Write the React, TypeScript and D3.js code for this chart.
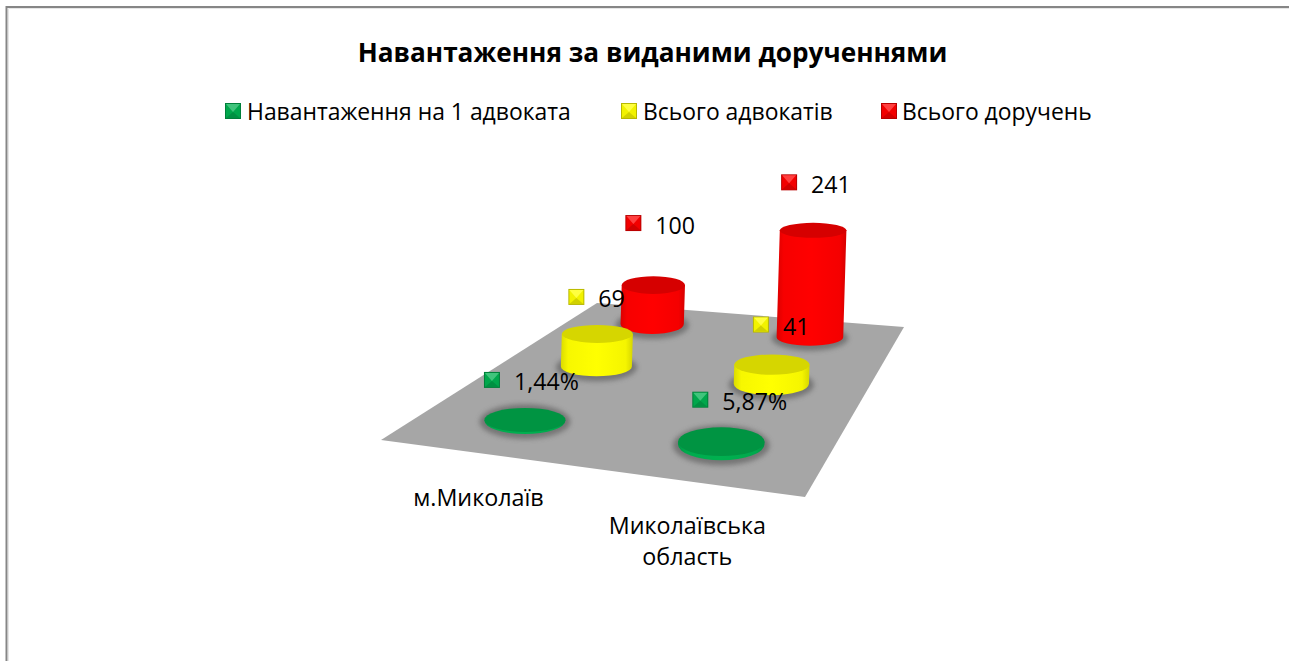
import React from "react";
import * as d3 from "d3";

const title = "Навантаження за виданими дорученнями";
const categories = ["м.Миколаїв", "Миколаївська область"];
const seriesNames = ["Навантаження на 1 адвоката", "Всього адвокатів", "Всього доручень"];
const loadPerLawyer = [1.44, 5.87];
const totalLawyers = [69, 41];
const totalAssignments = [100, 241];
const loadLabels = ["1,44%", "5,87%"];
const lawyerLabels = ["69", "41"];
const assignmentLabels = ["100", "241"];
const seriesColors = ["#00B050", "#FFFF00", "#FF0000"];

const seriesValues = [loadPerLawyer, totalLawyers, totalAssignments];
const seriesLabels = [loadLabels, lawyerLabels, assignmentLabels];

const W = 1289, H = 661;
// Floor quad corners: front-left, front-right, back-right, back-left
const A = [381, 440], B = [805, 497], C = [904, 327], D = [597, 303];

function makeHomography() {
  const dx1 = B[0] - C[0], dx2 = D[0] - C[0], sx = A[0] - B[0] + C[0] - D[0];
  const dy1 = B[1] - C[1], dy2 = D[1] - C[1], sy = A[1] - B[1] + C[1] - D[1];
  const det = dx1 * dy2 - dx2 * dy1;
  const g = (sx * dy2 - dx2 * sy) / det;
  const h = (dx1 * sy - sx * dy1) / det;
  const a = B[0] - A[0] + g * B[0], b = D[0] - A[0] + h * D[0];
  const d = B[1] - A[1] + g * B[1], e = D[1] - A[1] + h * D[1];
  return (u: number, v: number) => {
    const w = 1 + g * u + h * v;
    return { x: (a * u + b * v + A[0]) / w, y: (d * u + e * v + A[1]) / w, w };
  };
}
const project = makeHomography();

const uScale = d3.scalePoint<number>().domain([0, 1]).range([0.264, 0.757]);
const vScale = d3.scalePoint<number>().domain([0, 1, 2]).range([0.17, 0.855]);
const hScale = d3.scaleLinear().domain([0, 241]).range([0, 107]);

// Layout tuning per [series][category]
const flatten = [[0.33, 0.37], [0.28, 0.3], [0.31, 0.25]];
const depthFactor = [[1, 1], [1.06, 1.06], [0.88, 1]];
const keyOffsets = [
  [[-33, -40], [-21, -42]],
  [[-21, -37], [-11, -40]],
  [[-20, -62], [-24, -48]],
];

function shade(c: string, k: number) {
  const r = d3.rgb(c);
  return d3.rgb(r.r * k, r.g * k, r.b * k).formatHex();
}

function Key({ cx, cy, s, color }: { cx: number; cy: number; s: number; color: string }) {
  const x0 = cx - s / 2, x1 = cx + s / 2, y0 = cy - s / 2, y1 = cy + s / 2;
  const light = d3.interpolateRgb(color, "#ffffff")(0.25);
  return (
    <g>
      <rect x={x0} y={y0} width={s} height={s} fill={shade(color, 0.72)} />
      <rect x={x0 + 1} y={y0 + 1} width={s - 2} height={s - 2} fill={shade(color, 0.95)} />
      <path d={`M${x0 + 1},${y0 + 1}H${x1 - 1}L${cx},${cy + 1}Z`} fill={light} />
      <path d={`M${x0 + 1},${y1 - 1}H${x1 - 1}L${cx},${cy + 1}Z`} fill={shade(color, 0.82)} />
    </g>
  );
}

const FONT = "'Open Sans', sans-serif";

export default function App() {
  const marks = d3.range(3).flatMap((s) => d3.range(2).map((c) => {
    const p = project(uScale(c)!, vScale(s)!);
    const rx = 42 / p.w;
    const ry = rx * flatten[s][c];
    const h = hScale(seriesValues[s][c]) * depthFactor[s][c];
    const topX = p.x + h * 0.03;
    const topY = p.y - h;
    return { s, c, x: p.x, y: p.y, rx, ry, h, topX, topY, color: seriesColors[s] };
  }));
  // back to front
  const ordered = [...marks].sort((a, b) => b.s - a.s || a.c - b.c);

  const legendKeyX = [233, 629, 889];
  const legendTextX = [247, 643, 902];

  return (
    <svg width={W} height={H} viewBox={`0 0 ${W} ${H}`} style={{ position: "absolute", left: 0, top: 0, display: "block" }}>
      <defs>
        <filter id="soft" x="-30%" y="-50%" width="160%" height="200%">
          <feGaussianBlur stdDeviation="2.6" />
        </filter>
        <filter id="edge" x="-5%" y="-5%" width="110%" height="110%">
          <feGaussianBlur stdDeviation="0.5" />
        </filter>
        {seriesColors.map((c, i) => (
          <linearGradient key={i} id={`side${i}`} x1="0" x2="1" y1="0" y2="0">
            <stop offset="0" stopColor={shade(c, 0.86)} />
            <stop offset="0.1" stopColor={shade(c, 0.97)} />
            <stop offset="0.5" stopColor={c} />
            <stop offset="0.9" stopColor={shade(c, 0.96)} />
            <stop offset="1" stopColor={shade(c, 0.84)} />
          </linearGradient>
        ))}
      </defs>
      <rect width={W} height={H} fill="#ffffff" />
      <path d={`M6.5,${H}V7H${W}`} fill="none" stroke="#868686" strokeWidth={2} />
      <path d={`M8.5,${H}V8.5H${W}`} fill="none" stroke="#e6e6e6" strokeWidth={1} />

      <text x={652.5} y={62} textAnchor="middle" fontFamily={FONT} fontSize={26.2} fontWeight={700} fill="#000">{title}</text>

      {seriesNames.map((n, i) => (
        <g key={n}>
          <Key cx={legendKeyX[i]} cy={111} s={16} color={seriesColors[i]} />
          <text x={legendTextX[i]} y={119.5} fontFamily={FONT} fontSize={22.9} fill="#000">{n}</text>
        </g>
      ))}

      <polygon points={[A, B, C, D].map((p) => p.join(",")).join(" ")} fill="#a6a6a6" />

      {ordered.map((m) => (
        <ellipse key={`sh${m.s}${m.c}`} cx={m.x} cy={m.y + 1} rx={m.rx + 5} ry={m.ry + 4} fill="#555555" filter="url(#soft)" opacity={0.6} />
      ))}

      {ordered.map((m) => {
        const topRy = m.ry * 0.9;
        return (
          <g key={`c${m.s}${m.c}`} filter="url(#edge)">
            <path
              d={`M${m.x - m.rx},${m.y}L${m.topX - m.rx},${m.topY}L${m.topX + m.rx},${m.topY}L${m.x + m.rx},${m.y}A${m.rx},${m.ry} 0 0 1 ${m.x - m.rx},${m.y}Z`}
              fill={`url(#side${m.s})`}
            />
            <ellipse cx={m.topX} cy={m.topY} rx={m.rx} ry={topRy} fill={shade(m.color, 0.84)} />
          </g>
        );
      })}

      {marks.map((m) => {
        const [dx, dy] = keyOffsets[m.s][m.c];
        const kx = m.topX + dx, ky = m.topY + dy;
        return (
          <g key={`l${m.s}${m.c}`}>
            <Key cx={kx} cy={ky} s={16} color={m.color} />
            <text x={kx + 22} y={ky + 10.5} fontFamily={FONT} fontSize={23.2} fill="#000">{seriesLabels[m.s][m.c]}</text>
          </g>
        );
      })}

      {categories.map((cat, c) => {
        const p = project(uScale(c)!, 0);
        const words = c === 1 ? cat.split(" ") : [cat];
        return (
          <text key={cat} textAnchor="middle" fontFamily={FONT} fontSize={23.3} fill="#000">
            {words.map((w, i) => (
              <tspan key={w} x={p.x - 3} y={p.y + 52 + i * 31}>{w}</tspan>
            ))}
          </text>
        );
      })}
    </svg>
  );
}
